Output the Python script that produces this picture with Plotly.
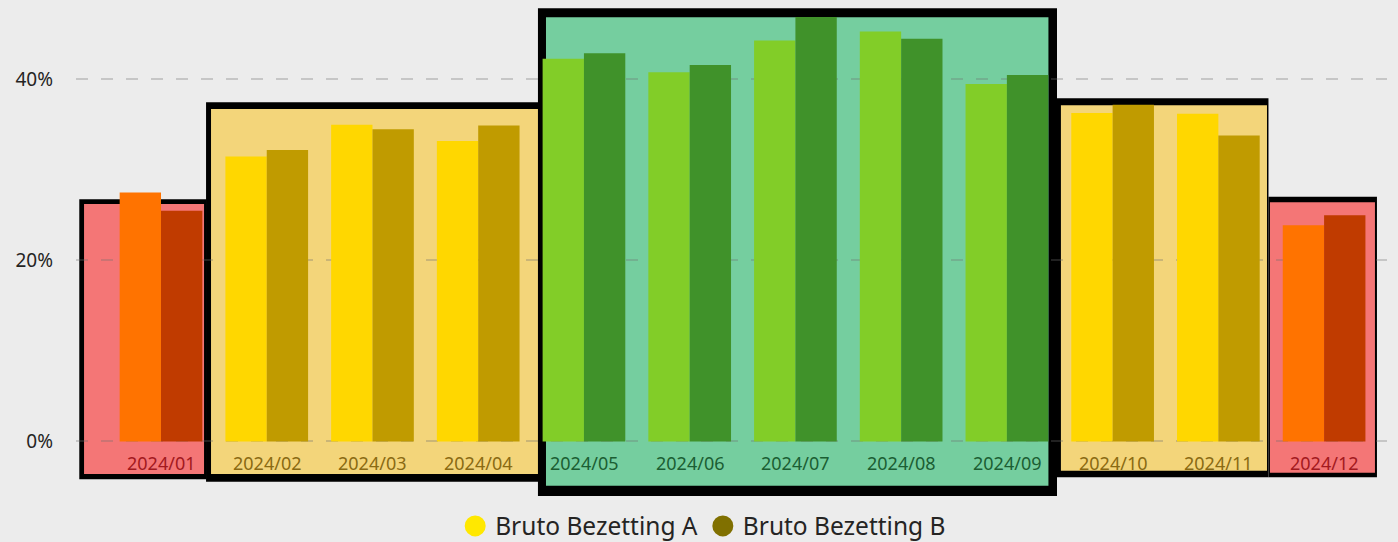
import plotly.graph_objects as go

# ---------------- data ----------------
months = ["2024/01", "2024/02", "2024/03", "2024/04", "2024/05", "2024/06",
          "2024/07", "2024/08", "2024/09", "2024/10", "2024/11", "2024/12"]
bruto_a = [27.5, 31.5, 35.0, 33.2, 42.3, 40.8, 44.3, 45.3, 39.5, 36.3, 36.2, 23.9]
bruto_b = [25.5, 32.2, 34.5, 34.9, 42.9, 41.6, 47.5, 44.5, 40.5, 37.2, 33.8, 25.0]
season = ["laag", "midden", "midden", "midden", "hoog", "hoog",
          "hoog", "hoog", "hoog", "midden", "midden", "laag"]
y_ticks = [0, 20, 40]
y_tick_labels = ["0%", "20%", "40%"]
series_names = ["Bruto Bezetting A", "Bruto Bezetting B"]

# ---------------- styles ----------------
PALETTE = {
    "laag":   dict(a="#FF7300", b="#C03B00", box="#F47676", label="#A3191E"),
    "midden": dict(a="#FFD700", b="#C09B00", box="#F3D57A", label="#8A6A12"),
    "hoog":   dict(a="#82CD28", b="#40922A", box="#75CE9F", label="#1B5E33"),
}
LEGEND_COLORS = ["#FFE800", "#807000"]
BG = "#ECECEC"
FONT = "Noto Sans"
Y_RANGE = [-0.17, 46.9]
X_RANGE = [-0.804, 11.595]

# season boxes: season, outer (x0, x1, y0, y1), inner (x0, x1, y0, y1)
BOXES = [
    ("laag",   (-0.773, 0.432, -4.18, 26.76), (-0.728, 0.407, -3.59, 26.24)),
    ("midden", (0.426, 3.584, -4.44, 37.48),  (0.473, 3.58, -3.59, 36.74)),
    ("midden", (8.474, 10.474, -3.96, 37.92), (8.511, 10.46, -3.23, 37.15)),
    ("laag",   (10.474, 11.50, -3.96, 27.05), (10.488, 11.481, -3.45, 26.43)),
    ("hoog",   (3.565, 8.474, -6.02, 47.87),  (3.641, 8.393, -4.88, 46.87)),
]


def to_paper(v):
    return (v - Y_RANGE[0]) / (Y_RANGE[1] - Y_RANGE[0])


fig = go.Figure()

fig.add_trace(go.Bar(
    x=months, y=bruto_a, name=series_names[0], showlegend=False,
    marker=dict(color=[PALETTE[s]["a"] for s in season], line=dict(width=0)),
))
fig.add_trace(go.Bar(
    x=months, y=bruto_b, name=series_names[1], showlegend=False,
    marker=dict(color=[PALETTE[s]["b"] for s in season], line=dict(width=0)),
))

# legend entries with round symbols
for name, col in zip(series_names, LEGEND_COLORS):
    fig.add_trace(go.Scatter(
        x=[None], y=[None], mode="markers", name=name,
        marker=dict(symbol="circle", size=25, color=col,
                    line=dict(color=col, width=5)),
    ))

shapes = []
for s, outer, inner in BOXES:
    for rect, fill in ((outer, "#000000"), (inner, PALETTE[s]["box"])):
        x0, x1, y0, y1 = rect
        shapes.append(dict(
            type="rect", xref="x", yref="paper",
            x0=x0, x1=x1, y0=to_paper(y0), y1=to_paper(y1),
            fillcolor=fill, line=dict(width=0), layer="below",
        ))

annotations = []
for m, s in zip(months, season):
    annotations.append(dict(
        x=m, xref="x", y=to_paper(-2.38), yref="paper",
        text=m, showarrow=False, xanchor="center", yanchor="middle",
        font=dict(family=FONT, size=18, color=PALETTE[s]["label"]),
    ))

fig.update_layout(
    width=1398, height=542,
    margin=dict(l=76, r=11, t=17, b=99),
    paper_bgcolor=BG, plot_bgcolor="rgba(0,0,0,0)",
    barmode="group", bargap=0.218, bargroupgap=0,
    shapes=shapes, annotations=annotations,
    font=dict(family=FONT, color="#252423"),
    showlegend=True,
    legend=dict(
        orientation="h", xref="container", yref="container",
        x=0.503, xanchor="center", y=0.0295, yanchor="middle",
        font=dict(family=FONT, size=24.5, color="#252423"),
        bgcolor="rgba(0,0,0,0)", itemsizing="trace", traceorder="normal",
    ),
    xaxis=dict(
        type="category", categoryorder="array", categoryarray=months,
        range=X_RANGE, showticklabels=False, showgrid=False,
        zeroline=False, showline=False, ticks="",
    ),
    yaxis=dict(
        range=Y_RANGE, tickmode="array", tickvals=y_ticks, ticktext=y_tick_labels,
        showgrid=True, gridcolor="rgba(110,110,110,0.3)", gridwidth=2,
        griddash="12px,13px", zeroline=False, showline=False, ticks="",
        ticklabelstandoff=22,
        tickfont=dict(family=FONT, size=19, color="#252423"),
    ),
)

fig.write_html(
    "out.html",
    config={"displayModeBar": False},
    post_script=(
        "document.body.style.margin='0';"
        "document.body.style.padding='0';"
        "document.body.style.overflow='hidden';"
        "document.body.style.background='" + BG + "';"
    ),
)
